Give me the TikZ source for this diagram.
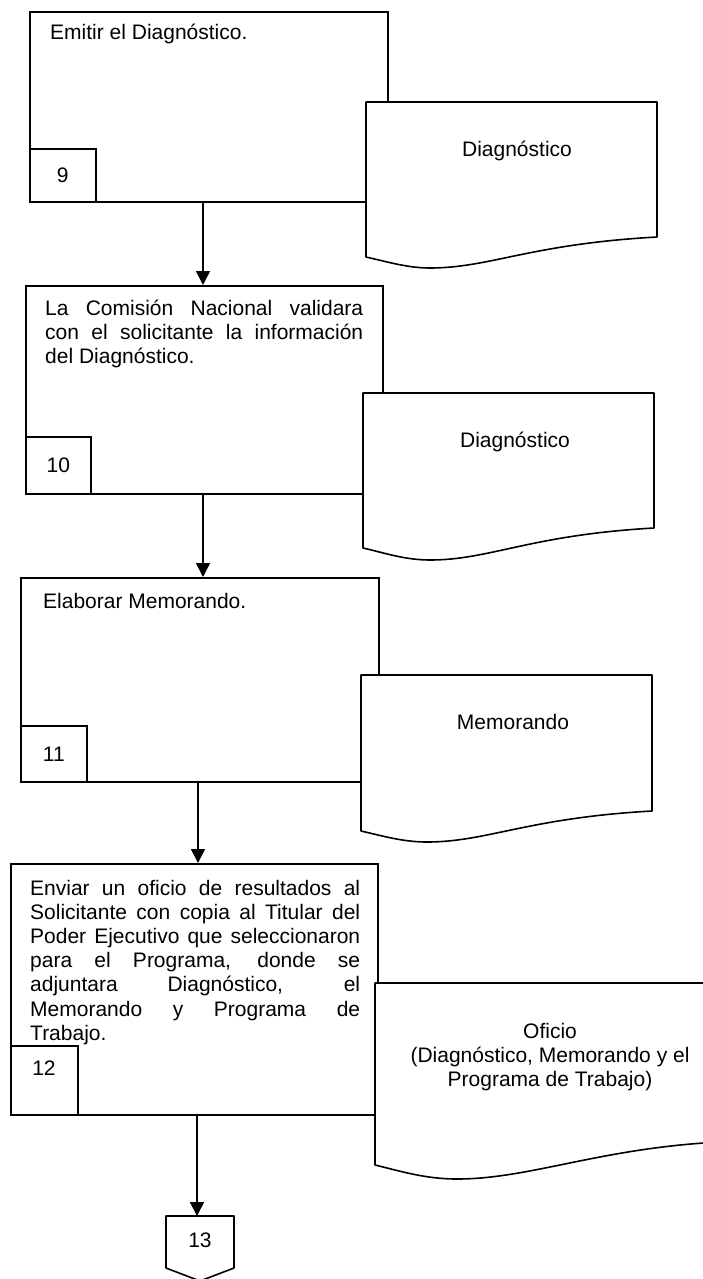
\documentclass[tikz,border=0pt]{standalone}
\usepackage{fontspec}
\setmainfont{Liberation Sans}
\usetikzlibrary{arrows.meta}
\tikzset{
  box/.style={draw, line width=1.6pt, fill=white, inner sep=0pt, anchor=north west},
  numbox/.style={box, minimum width=66pt, minimum height=54pt, font=\fontsize{21}{24.2}\selectfont},
  docshape/.style={draw, line width=1.6pt, fill=white, line join=round},
  arr/.style={line width=1.6pt, -{Triangle[width=14pt,length=14pt]}},
  txt/.style={inner sep=0pt, font=\fontsize{21}{24.2}\selectfont},
}
\begin{document}
\begin{tikzpicture}[x=1pt,y=-1pt]
\useasboundingbox (0,0) rectangle (703,1279);
\fill[white] (0,0) rectangle (703,1279);
\clip (0,0) rectangle (703,1279);

% ---------- step 9 ----------
\node[box, minimum width=358pt, minimum height=190pt] (b1) at (29,11) {};
\node[numbox, minimum height=53pt] (n1) at (29,148) {9};
\node[txt, anchor=base west] (b1t) at (50,40) {Emitir el Diagnóstico.};
\draw[docshape] (366,102) -- (657,102) -- (657,237)
  .. controls (530,244) and (490,268) .. (430,268)
  .. controls (408,268) and (388,262) .. (366,257) -- cycle;
\node[txt, anchor=base] (d1t) at (517,156) {Diagnóstico};

% ---------- step 10 ----------
\node[box, minimum width=357pt, minimum height=208pt] (b2) at (25,285) {};
\node[numbox, minimum width=65pt, minimum height=57pt] (n2) at (25,436) {10};
\node[txt, anchor=base west] (b2t) at (45,315) {\parbox[t]{318pt}{%
  \makebox[318pt][s]{La Comisión Nacional validara}\\
  \makebox[318pt][s]{con el solicitante la información}\\
  del Diagnóstico.}};
\draw[docshape] (363,393) -- (654,393) -- (654,528)
  .. controls (530,535) and (490,560) .. (430,560)
  .. controls (405,560) and (385,553) .. (363,548) -- cycle;
\node[txt, anchor=base] (d2t) at (515,447) {Diagnóstico};

% ---------- step 11 ----------
\node[box, minimum width=358pt, minimum height=204pt] (b3) at (20,577) {};
\node[numbox, minimum height=56pt] (n3) at (20,725) {11};
\node[txt, anchor=base west] (b3t) at (43,608) {Elaborar Memorando.};
\draw[docshape] (361,675) -- (652,675) -- (652,811)
  .. controls (527,818) and (487,842) .. (427,842)
  .. controls (403,842) and (383,836) .. (361,831) -- cycle;
\node[txt, anchor=base] (d3t) at (513,729) {Memorando};

% ---------- step 12 ----------
\node[box, minimum width=367pt, minimum height=251pt] (b4) at (10,863) {};
\node[numbox, minimum width=67pt, minimum height=69pt] (n4) at (10,1045) {};
\node[txt, anchor=base] (n4t) at (44,1075) {12};
\node[txt, anchor=base west] (b4t) at (30,895) {\parbox[t]{330pt}{%
  \makebox[330pt][s]{Enviar un oficio de resultados al}\\
  \makebox[330pt][s]{Solicitante con copia al Titular del}\\
  \makebox[330pt][s]{Poder Ejecutivo que seleccionaron}\\
  \makebox[330pt][s]{para el Programa, donde se}\\
  \makebox[330pt][s]{adjuntara Diagnóstico, el}\\
  \makebox[330pt][s]{Memorando y Programa de}\\
  Trabajo.}};
\draw[docshape] (375,983) -- (720,983) -- (720,1142)
  .. controls (600,1148) and (530,1179) .. (457,1179)
  .. controls (425,1179) and (400,1171) .. (375,1165) -- cycle;
\node[txt, anchor=base] (d4t) at (550,1038) {\parbox[t]{320pt}{\centering
  Oficio\\
  (Diagnóstico, Memorando y el\\
  Programa de Trabajo)}};

% ---------- off-page connector 13 ----------
\draw[docshape] (166,1216) -- (234,1216) -- (234,1268) -- (200,1281) -- (166,1268) -- cycle;
\coordinate (c13) at (200,1216);
\node[txt, anchor=base] (c13t) at (200,1247) {13};

% ---------- connectors ----------
\coordinate (a1) at (203,0);
\coordinate (a2) at (203,0);
\coordinate (a3) at (198,0);
\coordinate (a4) at (197,0);
\draw[arr] (b1.south -| a1) -- (b2.north -| a1);
\draw[arr] (b2.south -| a2) -- (b3.north -| a2);
\draw[arr] (b3.south -| a3) -- (b4.north -| a3);
\draw[arr] (b4.south -| a4) -- (c13 -| a4);
\end{tikzpicture}
\end{document}
